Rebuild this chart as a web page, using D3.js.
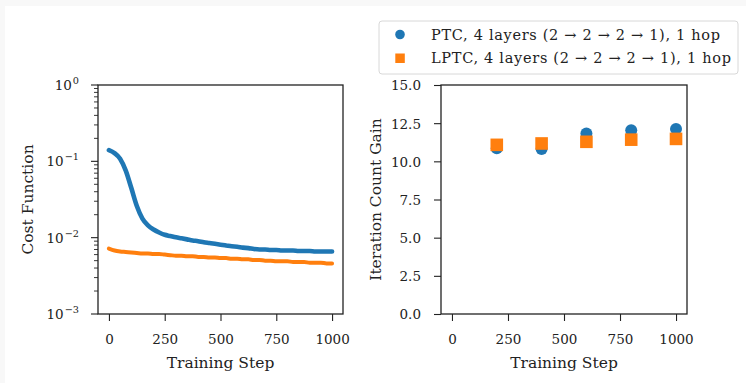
<!DOCTYPE html>
<html><head><meta charset="utf-8">
<script src="https://cdn.jsdelivr.net/npm/d3@7"></script>
<style>
html,body{margin:0;padding:0;background:#fff;}
text{font-family:"DejaVu Serif",serif;fill:#222;}
</style></head><body>
<svg id="c" width="746" height="383"></svg>
<script>
// ---- data ----
const steps = [0,25,50,75,100,125,150,175,200,225,250,275,300,325,350,375,400,425,450,475,500,525,550,575,600,625,650,675,700,725,750,775,800,825,850,875,900,925,950,975,1000];
const ptcCost = [0.140,0.128,0.108,0.076,0.045,0.026,0.0178,0.0145,0.0128,0.0117,0.0109,0.0105,0.0101,0.0098,0.0095,0.0092,0.0090,0.0087,0.0085,0.0083,0.0081,0.0079,0.0077,0.0076,0.0074,0.0073,0.0071,0.0070,0.0070,0.0069,0.0069,0.0068,0.0068,0.0068,0.0067,0.0067,0.0067,0.0066,0.0066,0.0066,0.0066];
const lptcCost = [0.0072,0.0068,0.0066,0.0065,0.0064,0.0063,0.0062,0.0062,0.0061,0.0061,0.0060,0.0059,0.0058,0.0058,0.0057,0.0057,0.0056,0.0056,0.0055,0.0055,0.0054,0.0054,0.0053,0.0053,0.0052,0.0052,0.0051,0.0051,0.0050,0.0050,0.0049,0.0049,0.0049,0.0048,0.0048,0.0048,0.0047,0.0047,0.0047,0.0046,0.0046];
const gainSteps = [200,400,600,800,1000];
const ptcGain = [10.85,10.8,11.83,12.03,12.12];
const lptcGain = [11.08,11.17,11.28,11.42,11.47];
const xTicks = [0,250,500,750,1000];
const yTicksGain = [0,2.5,5,7.5,10,12.5,15];
const legendLabels = ["PTC, 4 layers (2 \u2192 2 \u2192 2 \u2192 1), 1 hop","LPTC, 4 layers (2 \u2192 2 \u2192 2 \u2192 1), 1 hop"];
const blue = "#1f77b4", orange = "#ff7f0e";

const svg = d3.select("#c");
svg.append("rect").attr("x",0).attr("y",0).attr("width",746).attr("height",6).attr("fill","#f8f8f8");
svg.append("rect").attr("x",0).attr("y",0).attr("width",5).attr("height",383).attr("fill","#f8f8f8");

const FS = 13.5, LFS = 15.5;
const yTop = 85, yBot = 314;

// ---- left panel ----
const L = {x0:98, x1:343};
const xl = d3.scaleLinear().domain([-49,1049]).range([L.x0,L.x1]);
const yl = d3.scaleLog().domain([1e-3,1]).range([yBot,yTop]);
const gl = svg.append("g");

const lineL = d3.line().x((d,i)=>xl(steps[i])).y(d=>yl(d)).curve(d3.curveMonotoneX);
gl.append("path").datum(ptcCost).attr("d",lineL).attr("fill","none").attr("stroke",blue).attr("stroke-width",4.6).attr("stroke-linecap","round").attr("stroke-linejoin","round");
gl.append("path").datum(lptcCost).attr("d",lineL).attr("fill","none").attr("stroke",orange).attr("stroke-width",4).attr("stroke-linecap","round").attr("stroke-linejoin","round");

// minor log ticks
const minors = [];
[1e-3,1e-2,1e-1].forEach(b=>{for(let k=2;k<=9;k++) minors.push(b*k);});
gl.selectAll(".mn").data(minors).enter().append("line")
  .attr("x1",L.x0-4).attr("x2",L.x0).attr("y1",d=>yl(d)).attr("y2",d=>yl(d))
  .attr("stroke","#222").attr("stroke-width",0.9);
const majors = [1e-3,1e-2,1e-1,1];
gl.selectAll(".mj").data(majors).enter().append("line")
  .attr("x1",L.x0-7).attr("x2",L.x0).attr("y1",d=>yl(d)).attr("y2",d=>yl(d))
  .attr("stroke","#222").attr("stroke-width",1.1);
const majExp = ["\u22123","\u22122","\u22121","0"];
majors.forEach((d,i)=>{
  const sup = gl.append("text").attr("x",79).attr("y",yl(d)-1).attr("text-anchor","end")
    .attr("font-size",FS*0.72).text(majExp[i]);
  const w = sup.node().getComputedTextLength();
  gl.append("text").attr("x",78-w).attr("y",yl(d)+5).attr("text-anchor","end").attr("font-size",FS).text("10");
});
// x axis
const axL = d3.axisBottom(xl).tickValues(xTicks).tickSize(7).tickPadding(13).tickFormat(d3.format("d"));
const gxL = gl.append("g").attr("transform",`translate(0,${yBot})`).call(axL);
gxL.select(".domain").remove();
gxL.selectAll("text").attr("font-size",FS).attr("font-family","DejaVu Serif").attr("fill","#222");
gxL.selectAll("line").attr("stroke","#222").attr("stroke-width",1.1);
gl.append("rect").attr("x",L.x0).attr("y",yTop).attr("width",L.x1-L.x0).attr("height",yBot-yTop)
  .attr("fill","none").attr("stroke","#222").attr("stroke-width",1.3);
gl.append("text").attr("x",(L.x0+L.x1)/2).attr("y",368).attr("text-anchor","middle").attr("font-size",LFS).text("Training Step");
gl.append("text").attr("transform",`translate(33,${(yTop+yBot)/2}) rotate(-90)`).attr("text-anchor","middle").attr("font-size",LFS).text("Cost Function");

// ---- right panel ----
const R = {x0:441, x1:687};
const xr = d3.scaleLinear().domain([-49,1049]).range([R.x0,R.x1]);
const yr = d3.scaleLinear().domain([0,15]).range([yBot,yTop]);
const gr = svg.append("g");
gr.selectAll(".pc").data(gainSteps).enter().append("circle")
  .attr("cx",d=>xr(d)).attr("cy",(d,i)=>yr(ptcGain[i])).attr("r",6).attr("fill",blue);
gr.selectAll(".ls").data(gainSteps).enter().append("rect")
  .attr("x",d=>xr(d)-6.3).attr("y",(d,i)=>yr(lptcGain[i])-6.3).attr("width",12.6).attr("height",12.6).attr("fill",orange);

const ayR = d3.axisLeft(yr).tickValues(yTicksGain).tickSize(7).tickPadding(13).tickFormat(d3.format(".1f"));
const gyR = gr.append("g").attr("transform",`translate(${R.x0},0)`).call(ayR);
gyR.select(".domain").remove();
gyR.selectAll("text").attr("font-size",FS).attr("font-family","DejaVu Serif").attr("fill","#222").attr("dy","0.36em");
gyR.selectAll("line").attr("stroke","#222").attr("stroke-width",1.1);
const axR = d3.axisBottom(xr).tickValues(xTicks).tickSize(7).tickPadding(13).tickFormat(d3.format("d"));
const gxR = gr.append("g").attr("transform",`translate(0,${yBot})`).call(axR);
gxR.select(".domain").remove();
gxR.selectAll("text").attr("font-size",FS).attr("font-family","DejaVu Serif").attr("fill","#222");
gxR.selectAll("line").attr("stroke","#222").attr("stroke-width",1.1);
gr.append("rect").attr("x",R.x0).attr("y",yTop).attr("width",R.x1-R.x0).attr("height",yBot-yTop)
  .attr("fill","none").attr("stroke","#222").attr("stroke-width",1.3);
gr.append("text").attr("x",(R.x0+R.x1)/2).attr("y",368).attr("text-anchor","middle").attr("font-size",LFS).text("Training Step");
gr.append("text").attr("transform",`translate(381,${(yTop+yBot)/2}) rotate(-90)`).attr("text-anchor","middle").attr("font-size",LFS).text("Iteration Count Gain");

// ---- legend ----
const lg = svg.append("g");
lg.append("rect").attr("x",379).attr("y",21).attr("width",359).attr("height",53).attr("rx",3)
  .attr("fill","#fff").attr("stroke","#d8d8d8").attr("stroke-width",1);
lg.append("circle").attr("cx",400).attr("cy",34.5).attr("r",4.8).attr("fill",blue);
lg.append("rect").attr("x",395.3).attr("y",53.5).attr("width",9.5).attr("height",9.5).attr("fill",orange);
const legendW = [289, 300];
legendLabels.forEach((s,i)=>{
  lg.append("text").attr("x",431).attr("y",39.5+i*23.5).attr("font-size",14.5)
    .attr("textLength",legendW[i]).attr("lengthAdjust","spacing").text(s);
});
</script></body></html>
